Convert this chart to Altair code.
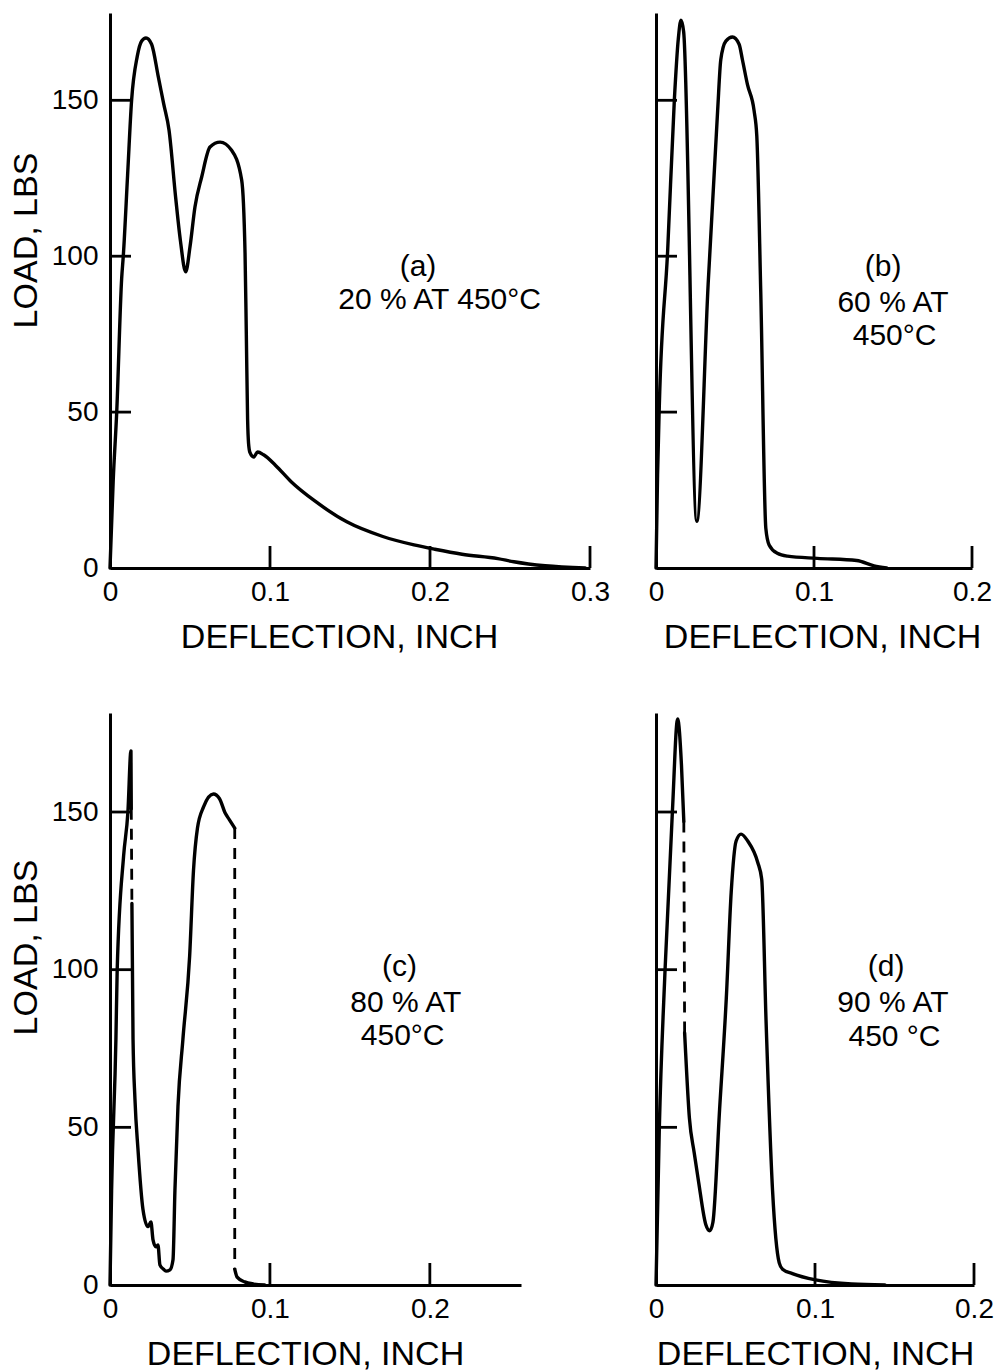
import altair as alt
import pandas as pd

FONT = "Liberation Sans"

# ---------------- data ----------------
# (a) 20 % AT 450 C
A_X = [0, 0.002, 0.0042, 0.0073, 0.0083, 0.011, 0.0135, 0.017, 0.0198, 0.0225, 0.026, 0.0302,
       0.0335, 0.0369, 0.041, 0.044, 0.0473, 0.050, 0.0531, 0.0573, 0.0625, 0.0688, 0.076,
       0.0823, 0.0844, 0.0852, 0.086, 0.0866, 0.0875, 0.0898, 0.0923, 0.096, 0.1035, 0.1134,
       0.128, 0.148, 0.1705, 0.19, 0.203, 0.22, 0.2424, 0.2524, 0.272, 0.297]
A_Y = [0, 28, 50, 93, 100, 126, 150, 164, 169, 170, 168, 157.5,
       149, 140.4, 119, 105, 95, 103, 115.8, 125.4, 135, 136.6, 134,
       124.4, 101, 75, 47.7, 40, 37, 35.6, 37.2, 36.3, 32.9, 27.6,
       21.5, 14.8, 10.1, 7.4, 6, 4.4, 3, 2, 0.7, 0]

# (b) 60 % AT 450 C
B_X = [0, 0.001, 0.0021, 0.0074, 0.0116, 0.0141, 0.0158, 0.0175, 0.0258, 0.033, 0.039, 0.041,
       0.0442, 0.0484, 0.0526, 0.0547, 0.0579, 0.0621, 0.0638, 0.0663, 0.0695, 0.0716, 0.0768,
       0.0832, 0.102, 0.127, 0.138, 0.146]
B_Y = [0, 30, 52, 102, 150, 169.6, 175.7, 172, 15, 91, 146.6, 163,
       169, 170.3, 168, 163, 155, 146.6, 138.5, 88.5, 12.8, 7.4, 4.7,
       3.8, 3.1, 2.4, 0.7, 0]

# (c) 80 % AT 450 C : solid pieces and dashed pieces
C1_X = [0, 0.001, 0.0037, 0.0045, 0.0085, 0.0112, 0.0131, 0.0133]
C1_Y = [0, 30, 78, 100, 136, 150, 169.4, 151]
C2_X = [0.0137, 0.0144, 0.0156, 0.0175, 0.0206, 0.0237, 0.0256, 0.0269, 0.0287, 0.030, 0.0312,
        0.0335, 0.035, 0.0375, 0.0394, 0.0406, 0.0425, 0.0456, 0.0498, 0.0522, 0.0547, 0.0585,
        0.0647, 0.0684, 0.0721, 0.0746, 0.078]
C2_Y = [121, 78, 59, 43, 24, 18.5, 20, 14.3, 12.1, 12.7, 6.4,
        5, 4.4, 4.8, 8, 30, 56.7, 78, 104.3, 131.4, 144.9, 151.6,
        155.7, 154.3, 149.6, 147.6, 144.9]
C3_X = [0.078, 0.0795, 0.0842, 0.09, 0.0967]
C3_Y = [5, 2.5, 1, 0.3, 0]
CD1_X = [0.0133, 0.0137]
CD1_Y = [151, 121]
CD2_X = [0.078, 0.078]
CD2_Y = [144.9, 5]

# (d) 90 % AT 450 C
D1_X = [0, 0.0021, 0.0057, 0.0103, 0.0136, 0.016, 0.0175]
D1_Y = [0, 50, 100, 150, 179.5, 165, 147]
D2_X = [0.0180, 0.0184, 0.021, 0.0240, 0.0268, 0.0313, 0.0338, 0.0358, 0.040, 0.0442, 0.0473,
        0.0504, 0.0535, 0.0577, 0.064, 0.0665, 0.0692, 0.0733, 0.0775, 0.0796, 0.0858, 0.1004,
        0.123, 0.144]
D2_Y = [80, 76, 53, 42, 32.7, 19.2, 17.2, 19.9, 55.7, 90.8, 124.6,
        140.8, 143, 140.8, 134, 128.6, 84, 30, 7, 5, 3.6, 1.6,
        0.3, 0]
DD_X = [0.0175, 0.0180]
DD_Y = [147, 80]

Y_TICKS = [50, 100, 150]
Y_LABELS = [0, 50, 100, 150]
X_LABELS_A = [0, 0.1, 0.2, 0.3]
X_LABELS = [0, 0.1, 0.2]
X_TICKS_A = [0.1, 0.2, 0.3]
X_TICKS = [0.1, 0.2]

NOTES_A = (["(a)", "20 % AT 450°C"], [0.1925, 0.206], [96.5, 86])
NOTES_B = (["(b)", "60 % AT", "450°C"], [0.1437, 0.150, 0.151], [96.5, 85, 74.5])
NOTES_C = (["(c)", "80 % AT", "450°C"], [0.181, 0.185, 0.183], [101, 89.5, 79])
NOTES_D = (["(d)", "90 % AT", "450 °C"], [0.1447, 0.149, 0.150], [101, 89.5, 78.5])


def parts_df(parts):
    frames = []
    for k, (xs, ys) in enumerate(parts):
        frames.append(pd.DataFrame({"x": xs, "y": ys, "part": k, "i": range(len(xs))}))
    return pd.concat(frames, ignore_index=True)


def panel(solid, dashed, xmax, ymax, width, height, xlabels, xticks, ylabels_on, notes,
          xtitle_x, ytitle_y=0):
    xs = alt.Scale(domain=[0, xmax], nice=False, zero=False)
    ys = alt.Scale(domain=[0, ymax], nice=False, zero=False)
    xaxis = alt.Axis(values=xlabels, grid=False, ticks=False, tickSize=0,
                     labelExpr="datum.value == 0 ? '0' : format(datum.value, '.1f')",
                     labelFont=FONT, labelFontSize=28, labelColor="black", labelPadding=10,
                     labelFlush=False, labelOverlap=False,
                     domainColor="black", domainWidth=3,
                     titleFont=FONT, titleFontSize=34, titleFontWeight="normal",
                     titleColor="black", titlePadding=14, titleX=xtitle_x)
    if ylabels_on:
        yaxis = alt.Axis(values=Y_LABELS, grid=False, ticks=False, tickSize=0,
                         labelFont=FONT, labelFontSize=28, labelColor="black", labelPadding=12,
                         labelFlush=False, labelOverlap=False,
                         domainColor="black", domainWidth=3,
                         titleFont=FONT, titleFontSize=34, titleFontWeight="normal",
                         titleColor="black", titlePadding=8, titleY=ytitle_y)
        ytitle = "LOAD, LBS"
    else:
        yaxis = alt.Axis(values=Y_LABELS, grid=False, ticks=False, tickSize=0, labels=False,
                         domainColor="black", domainWidth=3)
        ytitle = None

    X = lambda: alt.X("x:Q", scale=xs, axis=xaxis, title="DEFLECTION, INCH")
    Y = lambda: alt.Y("y:Q", scale=ys, axis=yaxis, title=ytitle)

    sdf = parts_df(solid)
    layers = [
        alt.Chart(sdf).mark_line(color="black", strokeWidth=3.4, strokeCap="round",
                                 strokeJoin="round", interpolate="monotone").encode(
            x=X(), y=Y(), detail="part:N", order="i:Q")
    ]
    if dashed:
        ddf = parts_df(dashed)
        layers.append(
            alt.Chart(ddf).mark_line(color="black", strokeWidth=2.8, strokeDash=[11, 9]).encode(
                x=X(), y=Y(), detail="part:N", order="i:Q"))
    ytk = pd.DataFrame({"x": [0] * len(Y_TICKS), "y": Y_TICKS})
    layers.append(alt.Chart(ytk).mark_tick(color="black", opacity=1, orient="horizontal",
                                           size=21, thickness=2.8, xOffset=10.5).encode(
        x=X(), y=Y()))
    xtk = pd.DataFrame({"x": xticks, "y": [0] * len(xticks)})
    layers.append(alt.Chart(xtk).mark_tick(color="black", opacity=1, orient="vertical",
                                           size=22, thickness=2.8, yOffset=-11).encode(
        x=X(), y=Y()))
    txt, tx, ty = notes
    tdf = pd.DataFrame({"t": txt, "x": tx, "y": ty})
    layers.append(alt.Chart(tdf).mark_text(font=FONT, fontSize=30, color="black",
                                           align="center", baseline="middle").encode(
        x=X(), y=Y(), text="t:N"))
    return alt.layer(*layers).properties(width=width, height=height)


pa = panel([(A_X, A_Y)], [], 0.3, 178, 480, 555, X_LABELS_A, X_TICKS_A, True, NOTES_A,
           229, 227)
pb = panel([(B_X, B_Y)], [], 0.2, 178, 316, 555, X_LABELS, X_TICKS, False, NOTES_B, 166)
pc = panel([(C1_X, C1_Y), (C2_X, C2_Y), (C3_X, C3_Y)], [(CD1_X, CD1_Y), (CD2_X, CD2_Y)],
           0.257, 181.4, 411, 572, X_LABELS, X_TICKS, True, NOTES_C, 195, 234)
pd_ = panel([(D1_X, D1_Y), (D2_X, D2_Y)], [(DD_X, DD_Y)], 0.2, 181.4, 318, 572,
            X_LABELS, X_TICKS, False, NOTES_D, 159)

chart = alt.concat(pa, pb, pc, pd_, columns=2, spacing={"row": 145, "column": 66},
                   bounds="flush").configure_view(
    stroke=None).properties(padding={"left": 9, "top": 13, "right": 5, "bottom": 5},
                            background="white")

chart.save("out.html", embed_options={"renderer": "svg", "actions": False})
